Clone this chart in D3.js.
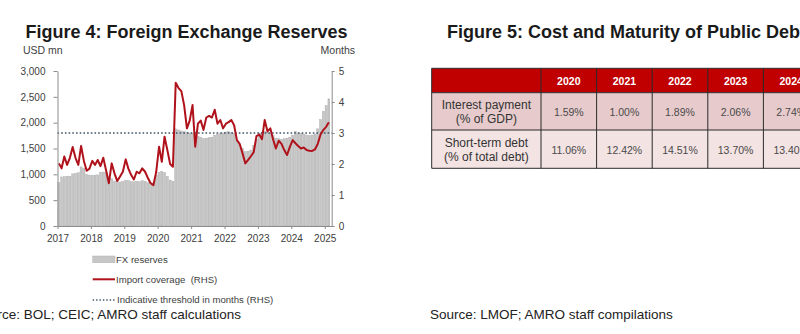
<!DOCTYPE html>
<html>
<head>
<meta charset="utf-8">
<script src="https://cdn.jsdelivr.net/npm/d3@7"></script>
<style>
  html, body { margin: 0; padding: 0; background: #fff; overflow: hidden; }
  svg { display: block; font-family: "Liberation Sans", Arial, sans-serif; }
</style>
</head>
<body>
<svg id="chart" width="800" height="334"></svg>
<script>
// ---------- DATA ----------
const startYear = 2017;
const startMonth = 0; // Jan 2017
// FX reserves, USD mn, monthly Jan 2017 - Feb 2025
const fxReserves = [
  840, 950, 955, 965, 960, 1010, 1020, 1030, 1145, 1120, 1000, 985,
  980, 985, 990, 1040, 1045, 1030, 925, 915, 870, 855, 850, 860,
  885, 880, 860, 855, 865, 860, 875, 865, 840, 835, 830, 985,
  1040, 1050, 1035, 960, 890, 865, 1880, 1860, 1840, 1825, 1810, 1800,
  1790, 1780, 1735, 1720, 1690, 1700, 1710, 1720, 1760, 1780, 1790, 1800,
  1820, 1825, 1810, 1790, 1660, 1580, 1500, 1440, 1450, 1470, 1560, 1680,
  1800, 1820, 1830, 1810, 1790, 1750, 1700, 1690, 1680, 1690, 1700, 1720,
  1760, 1830, 1800, 1790, 1780, 1760, 1750, 1760, 1780, 1880, 2060, 2220,
  2330, 2460
];
// Import coverage, months (RHS)
const importCoverage = [
  2.02, 1.86, 2.24, 1.97, 2.20, 2.55, 2.20, 1.97, 2.58, 2.10, 1.78, 1.85,
  2.10, 1.97, 2.13, 1.93, 2.20, 1.80, 1.38, 2.02, 1.70, 1.45, 1.60, 1.75,
  2.15, 1.85, 1.65, 1.50, 1.75, 1.70, 1.86, 1.75, 1.55, 1.38, 1.32, 1.75,
  2.56, 2.07, 2.88, 2.45, 2.00, 1.91, 4.62, 4.45, 4.35, 3.90, 3.15, 3.40,
  3.90, 2.56, 3.30, 3.40, 3.10, 3.50, 3.55, 3.50, 3.75, 3.30, 3.42, 3.15,
  3.30, 3.35, 3.42, 3.25, 2.77, 2.65, 2.35, 2.02, 2.13, 2.25, 2.38, 2.90,
  2.95, 2.80, 3.42, 3.05, 3.15, 2.80, 2.50, 2.75, 2.65, 2.45, 2.29, 2.55,
  2.77, 2.67, 2.58, 2.50, 2.53, 2.45, 2.43, 2.42, 2.47, 2.65, 2.95, 3.10,
  3.20, 3.35
];
const threshold = 3;
const leftTicks = [0, 500, 1000, 1500, 2000, 2500, 3000];
const rightTicks = [0, 1, 2, 3, 4, 5];
const yearTicks = [2017, 2018, 2019, 2020, 2021, 2022, 2023, 2024, 2025];

// Table (Figure 5)
const tableYears = ["2020", "2021", "2022", "2023", "2024"];
const rowLabels = [["Interest payment", "(% of GDP)"], ["Short-term debt", "(% of total debt)"]];
const interestPayment = ["1.59%", "1.00%", "1.89%", "2.06%", "2.74%"];
const shortTermDebt = ["11.06%", "12.42%", "14.51%", "13.70%", "13.40%"];

// ---------- DRAW ----------
const svg = d3.select("#chart");
const axisColor = "#8c8c8c";
const textColor = "#404040";

const months = fxReserves.map((v, i) => new Date(startYear, startMonth + i, 1));

const x = d3.scaleTime()
  .domain([new Date(2017, 0, 1), new Date(2025, 2, 18)])
  .range([57.5, 331.7]);
const yL = d3.scaleLinear().domain([0, 3000]).range([226, 71]);
const yR = d3.scaleLinear().domain([0, 5]).range([226, 71]);

// Titles
svg.append("text").attr("x", 186.5).attr("y", 38).attr("text-anchor", "middle")
  .attr("font-size", 18).attr("font-weight", "bold").attr("fill", "#1a1a1a")
  .text("Figure 4: Foreign Exchange Reserves");
svg.append("text").attr("x", 447).attr("y", 38).attr("text-anchor", "start")
  .attr("font-size", 18).attr("font-weight", "bold").attr("fill", "#1a1a1a")
  .text("Figure 5: Cost and Maturity of Public Debt");

// Axis unit labels
svg.append("text").attr("x", 23).attr("y", 54).attr("font-size", 10.5).attr("fill", textColor).text("USD mn");
svg.append("text").attr("x", 355).attr("y", 54).attr("text-anchor", "end").attr("font-size", 10.5).attr("fill", textColor).text("Months");

// Bars
const bars = svg.append("g");
bars.selectAll("rect").data(fxReserves).join("rect")
  .attr("x", (d, i) => x(months[i]) + 0.35)
  .attr("width", (d, i) => x(new Date(startYear, startMonth + i + 1, 1)) - x(months[i]) - 0.7)
  .attr("y", d => yL(d))
  .attr("height", d => yL(0) - yL(d))
  .attr("fill", "#c6c6c6")
  .attr("stroke", "#a9a9a9")
  .attr("stroke-width", 0.4);

// Threshold
svg.append("line")
  .attr("x1", x.range()[0]).attr("x2", x.range()[1])
  .attr("y1", yR(threshold)).attr("y2", yR(threshold))
  .attr("stroke", "#3f5466").attr("stroke-width", 1.6)
  .attr("stroke-dasharray", "1.6,2.1");

// Import coverage line
const mid = i => (x(months[i]) + x(new Date(startYear, startMonth + i + 1, 1))) / 2;
svg.append("path")
  .datum(importCoverage)
  .attr("fill", "none")
  .attr("stroke", "#b0121b")
  .attr("stroke-width", 2)
  .attr("stroke-linejoin", "round")
  .attr("d", d3.line().x((d, i) => mid(i)).y(d => yR(d)));

// Axes
function styleAxis(g) {
  g.selectAll("path, line").attr("stroke", axisColor);
  g.selectAll("text").attr("fill", textColor).attr("font-size", 10)
    .attr("font-family", "'Liberation Sans', Arial, sans-serif");
}
svg.append("g").attr("transform", "translate(57.5,0)")
  .call(d3.axisLeft(yL).tickValues(leftTicks).tickFormat(d3.format(",")).tickSize(4).tickSizeOuter(0).tickPadding(8))
  .call(styleAxis);
svg.append("g").attr("transform", "translate(331.7,0)")
  .call(d3.axisRight(yR).tickValues(rightTicks).tickFormat(d3.format("d")).tickSize(3).tickSizeOuter(0).tickPadding(4))
  .call(styleAxis);
svg.append("g").attr("transform", "translate(0,226)")
  .call(d3.axisBottom(x).tickValues(yearTicks.map(yv => new Date(yv, 0, 1)))
    .tickFormat(d3.timeFormat("%Y")).tickSize(3).tickSizeOuter(0).tickPadding(6))
  .call(styleAxis);

// Legend
const leg = svg.append("g").attr("font-size", 9.6).attr("fill", textColor);
leg.append("rect").attr("x", 92.7).attr("y", 256).attr("width", 22.3).attr("height", 6.7)
  .attr("fill", "#c6c6c6").attr("stroke", "#a9a9a9").attr("stroke-width", 0.4);
leg.append("text").attr("x", 116).attr("y", 262.7).text("FX reserves");
leg.append("line").attr("x1", 92.7).attr("x2", 115).attr("y1", 279.3).attr("y2", 279.3)
  .attr("stroke", "#b0121b").attr("stroke-width", 2);
leg.append("text").attr("x", 116).attr("y", 283).attr("xml:space", "preserve").text("Import coverage\u00a0 (RHS)");
leg.append("line").attr("x1", 92.7).attr("x2", 115).attr("y1", 300).attr("y2", 300)
  .attr("stroke", "#3f5466").attr("stroke-width", 1.4).attr("stroke-dasharray", "1.4,2");
leg.append("text").attr("x", 117).attr("y", 303.3).text("Indicative threshold in months (RHS)");

// Sources
svg.append("text").attr("x", 241).attr("y", 319.3).attr("text-anchor", "end")
  .attr("font-size", 13.5).attr("fill", "#222").text("Source: BOL; CEIC; AMRO staff calculations");
svg.append("text").attr("x", 430).attr("y", 319.3)
  .attr("font-size", 13.5).attr("fill", "#222").text("Source: LMOF; AMRO staff compilations");

// Table
const colEdges = [431.7, 541, 596.6, 652.2, 707.8, 763.4, 819];
const rowEdges = [68.3, 92.7, 130, 168.3];
const tbl = svg.append("g");
// header
tbl.append("rect").attr("x", colEdges[0]).attr("y", rowEdges[0])
  .attr("width", colEdges[6] - colEdges[0]).attr("height", rowEdges[1] - rowEdges[0]).attr("fill", "#c00000");
tbl.append("rect").attr("x", colEdges[0]).attr("y", rowEdges[1])
  .attr("width", colEdges[6] - colEdges[0]).attr("height", rowEdges[2] - rowEdges[1]).attr("fill", "#e7cbcc");
tbl.append("rect").attr("x", colEdges[0]).attr("y", rowEdges[2])
  .attr("width", colEdges[6] - colEdges[0]).attr("height", rowEdges[3] - rowEdges[2]).attr("fill", "#f3e3e3");

tableYears.forEach((yr, j) => {
  const cx = (colEdges[j + 1] + colEdges[j + 2]) / 2;
  tbl.append("text").attr("x", cx).attr("y", 84.6).attr("text-anchor", "middle")
    .attr("font-size", 10.5).attr("font-weight", "bold").attr("fill", "#fff").text(yr);
  tbl.append("text").attr("x", cx).attr("y", 115.5).attr("text-anchor", "middle")
    .attr("font-size", 10.5).attr("fill", "#4a4a4a").text(interestPayment[j]);
  tbl.append("text").attr("x", cx).attr("y", 153.8).attr("text-anchor", "middle")
    .attr("font-size", 10.5).attr("fill", "#4a4a4a").text(shortTermDebt[j]);
});
const labelCx = (colEdges[0] + colEdges[1]) / 2;
[[109.2, 123.4], [147, 161.2]].forEach((ys, r) => {
  ys.forEach((yy, k) => {
    tbl.append("text").attr("x", labelCx).attr("y", yy).attr("text-anchor", "middle")
      .attr("font-size", 12).attr("fill", "#333").text(rowLabels[r][k]);
  });
});
// grid lines
const gridColor = "#2b2b2b";
colEdges.forEach(cx => {
  tbl.append("line").attr("x1", cx).attr("x2", cx).attr("y1", rowEdges[0]).attr("y2", rowEdges[3])
    .attr("stroke", gridColor).attr("stroke-width", 1);
});
rowEdges.forEach(ry => {
  tbl.append("line").attr("x1", colEdges[0]).attr("x2", colEdges[6]).attr("y1", ry).attr("y2", ry)
    .attr("stroke", gridColor).attr("stroke-width", 1);
});
</script>
</body>
</html>
